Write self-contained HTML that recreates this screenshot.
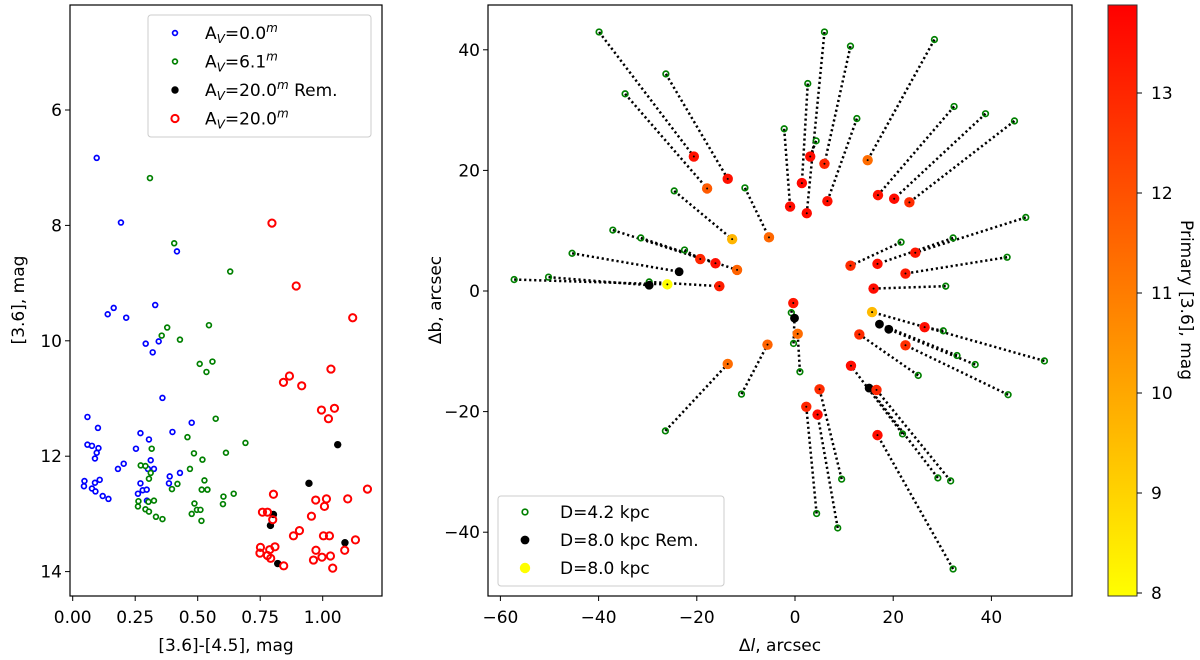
<!DOCTYPE html>
<html><head><meta charset="utf-8"><style>
html,body{margin:0;padding:0;background:#fff;}
svg{display:block;font-family:"DejaVu Sans","Liberation Sans",sans-serif;}
</style></head><body>
<svg id="fig" width="1200" height="660" viewBox="0 0 1200 660">
<defs>
<linearGradient id="cmap" x1="0" y1="1" x2="0" y2="0">
<stop offset="0" stop-color="#ffff00"/><stop offset="1" stop-color="#ff0000"/>
</linearGradient>
</defs>
<g id="left"></g>
<g id="right"></g>
<g id="cbar"></g>
</svg>
<script>
// ---------- Left panel data ----------
const blueX=[0.096,0.193,0.417,0.14,0.164,0.214,0.33,0.292,0.344,0.32,0.359,0.059,0.101,0.476,0.271,0.399,0.305,0.059,0.077,0.103,0.096,0.089,0.253,0.312,0.204,0.181,0.301,0.325,0.429,0.388,0.047,0.108,0.089,0.045,0.271,0.385,0.077,0.091,0.28,0.296,0.261,0.12,0.143,0.297];
const blueY=[6.83,7.95,8.45,9.54,9.43,9.60,9.38,10.05,10.01,10.20,10.99,11.32,11.51,11.42,11.60,11.58,11.71,11.80,11.82,11.86,11.94,12.04,11.87,12.07,12.13,12.22,12.22,12.22,12.29,12.35,12.43,12.41,12.46,12.52,12.47,12.47,12.56,12.61,12.59,12.58,12.65,12.69,12.74,12.77];
const greenX=[0.309,0.406,0.63,0.378,0.545,0.356,0.429,0.508,0.559,0.535,0.572,0.459,0.691,0.316,0.485,0.519,0.613,0.272,0.291,0.312,0.469,0.305,0.527,0.419,0.397,0.516,0.539,0.644,0.603,0.263,0.303,0.325,0.487,0.601,0.261,0.291,0.305,0.497,0.511,0.476,0.333,0.359,0.515];
const greenY=[7.18,8.31,8.80,9.77,9.73,9.91,9.98,10.40,10.36,10.54,11.35,11.67,11.77,11.87,11.95,12.06,11.94,12.16,12.17,12.29,12.22,12.39,12.42,12.48,12.57,12.58,12.58,12.65,12.70,12.78,12.79,12.77,12.82,12.83,12.87,12.92,12.96,12.93,12.93,13.00,13.05,13.09,13.12];
const remX=[1.06,0.945,0.803,0.791,1.089,0.82];
const remY=[11.80,12.47,13.01,13.20,13.50,13.86];
const redX=[0.797,0.894,1.12,1.033,0.867,0.843,0.916,0.995,1.047,1.023,1.179,0.803,0.972,1.015,1.1,1.007,0.759,0.779,0.8,0.955,0.907,0.883,1.003,1.027,1.131,0.751,0.749,0.809,0.788,0.779,0.792,0.973,0.963,0.997,1.031,1.088,1.04,0.844];
const redY=[7.96,9.05,9.60,10.49,10.61,10.72,10.78,11.20,11.17,11.35,12.57,12.66,12.76,12.74,12.74,12.87,12.97,12.97,13.10,13.04,13.29,13.38,13.38,13.38,13.45,13.58,13.68,13.57,13.62,13.72,13.77,13.63,13.80,13.75,13.73,13.63,13.94,13.90];
const leftXTicks=[0,0.25,0.5,0.75,1.0];
const leftXTickLabels=["0.00","0.25","0.50","0.75","1.00"];
const leftYTicks=[6,8,10,12,14];

// ---------- Right panel data ----------
const greenL=[-39.9,-26.3,-34.6,-10.2,-24.6,-2.2,-37.1,-31.4,-22.5,-45.4,-57.2,-50.2,-29.7,6.0,11.3,2.6,4.3,12.6,28.4,32.4,38.8,44.7,47.0,21.6,32.2,43.2,30.7,-0.75,50.8,-0.3,1.0,30.2,33.0,36.7,25.1,43.4,21.9,29.1,31.7,32.2,9.5,4.4,8.7,-10.9,-26.4];
const greenB=[42.95,36.0,32.7,17.1,16.6,26.9,10.1,8.8,6.8,6.25,1.9,2.3,1.5,42.95,40.6,34.4,24.9,28.6,41.7,30.6,29.4,28.2,12.2,8.1,8.8,5.6,0.8,-3.6,-11.6,-8.7,-13.4,-6.6,-10.7,-12.2,-14.0,-17.2,-23.7,-31.0,-31.5,-46.1,-31.2,-36.9,-39.3,-17.1,-23.2];
const farL=[-20.6,-13.7,-17.9,-5.3,-12.8,-1.0,-16.2,-11.8,-19.3,-23.6,-26.0,-29.7,-15.4,2.4,6.0,1.4,3.1,6.6,14.8,16.9,20.2,23.3,24.5,11.3,16.8,22.5,16.0,-0.35,15.7,-0.1,0.55,26.4,17.2,19.1,13.1,22.5,11.4,15.1,16.6,16.8,5.0,2.3,4.6,-5.6,-13.7];
const farB=[22.3,18.6,17.0,8.9,8.6,14.0,4.6,3.5,5.3,3.2,1.1,0.95,0.8,12.9,21.1,17.9,22.3,14.9,21.7,15.9,15.3,14.7,6.35,4.2,4.5,2.9,0.4,-2.0,-3.5,-4.5,-7.1,-6.0,-5.5,-6.35,-7.2,-9.0,-12.4,-16.1,-16.4,-23.9,-16.3,-19.2,-20.5,-8.9,-12.1];
// primary [3.6] magnitude; null = remnant (black)
const farMag=[13.5,13.5,11.8,11.5,9.7,13.6,13.6,11.6,13.0,null,8.0,null,13.2,13.6,13.0,13.7,13.6,13.5,11.4,13.5,13.6,12.9,13.4,12.9,13.5,13.3,13.6,13.4,9.6,null,11.4,13.6,null,null,12.9,12.8,13.6,null,13.0,13.6,12.9,13.0,13.6,11.6,11.4];
const rightXTicks=[-60,-40,-20,0,20,40];
const rightYTicks=[-40,-20,0,20,40];
const cbarTicks=[8,9,10,11,12,13];

const NS="http://www.w3.org/2000/svg";
function mk(parent,tag,attrs,text){const e=document.createElementNS(NS,tag);for(const k in attrs)e.setAttribute(k,attrs[k]);if(text!==undefined)e.textContent=text;parent.appendChild(e);return e;}
const FS=17;

// ---------- Left axes ----------
const L=document.getElementById('left');
const lx=v=>72.7+v*250, ly=v=>110+(v-6)*57.7;
const LB={x0:70,x1:382,y0:5,y1:596};
let fr=mk(L,'rect',{x:LB.x0,y:LB.y0,width:LB.x1-LB.x0,height:LB.y1-LB.y0,fill:'none',stroke:'#000','stroke-width':1.2});

leftXTicks.forEach((t,i)=>{
  mk(L,'line',{x1:lx(t),x2:lx(t),y1:LB.y1,y2:LB.y1+5,stroke:'#000','stroke-width':1});
  const tx=mk(L,'text',{x:lx(t),y:623,'font-size':FS,'text-anchor':'middle'},leftXTickLabels[i]);
  
});
leftYTicks.forEach(t=>{
  mk(L,'line',{x1:LB.x0-5,x2:LB.x0,y1:ly(t),y2:ly(t),stroke:'#000','stroke-width':1});
  const tx=mk(L,'text',{x:LB.x0-8,y:ly(t)+6,'font-size':FS,'text-anchor':'end'},String(t));
  
});
let xl=mk(L,'text',{x:226,y:651,'font-size':FS,'text-anchor':'middle'},'[3.6]-[4.5], mag');

let yl=mk(L,'text',{x:0,y:0,'font-size':FS,'text-anchor':'middle',transform:'translate(24,300) rotate(-90)'},'[3.6], mag');

blueX.forEach((v,i)=>{const c=mk(L,'circle',{cx:lx(v),cy:ly(blueY[i]),r:2.4,fill:'#fff',stroke:'#0000ff','stroke-width':1.7});
});
greenX.forEach((v,i)=>{const c=mk(L,'circle',{cx:lx(v),cy:ly(greenY[i]),r:2.4,fill:'#fff',stroke:'#008000','stroke-width':1.7});
});
remX.forEach((v,i)=>{const c=mk(L,'circle',{cx:lx(v),cy:ly(remY[i]),r:3.7,fill:'#000'});
});
redX.forEach((v,i)=>{const c=mk(L,'circle',{cx:lx(v),cy:ly(redY[i]),r:3.6,fill:'none',stroke:'#ff0000','stroke-width':2});
});
// legend
const lg=mk(L,'g',{});
mk(lg,'rect',{x:148,y:15,width:223,height:122,fill:'#fff','fill-opacity':0.85,stroke:'#ccc','stroke-width':1,rx:3});
const legItems=[['b','0.0',''],['g','6.1',''],['k','20.0',' Rem.'],['r','20.0','']];
legItems.forEach((it,i)=>{
  const y=33+i*28.5;
  if(it[0]==='b')mk(lg,'circle',{cx:175,cy:y,r:2.4,fill:'#fff',stroke:'#0000ff','stroke-width':1.7});
  if(it[0]==='g')mk(lg,'circle',{cx:175,cy:y,r:2.4,fill:'#fff',stroke:'#008000','stroke-width':1.7});
  if(it[0]==='k')mk(lg,'circle',{cx:175,cy:y,r:3.7,fill:'#000'});
  if(it[0]==='r')mk(lg,'circle',{cx:175,cy:y,r:3.6,fill:'none',stroke:'#ff0000','stroke-width':2});
  const t=mk(lg,'text',{x:205,y:y+6,'font-size':FS});
  
  mk(t,'tspan',{},'A');mk(t,'tspan',{'font-size':12,dy:4,'font-style':'italic'},'V');mk(t,'tspan',{dy:-4},'='+it[1]);
  mk(t,'tspan',{'font-size':12,dy:-7,'font-style':'italic'},'m');mk(t,'tspan',{dy:7},it[2]);
});

// ---------- Right axes ----------
const R=document.getElementById('right');
const rx=v=>795+v*4.91, ry=v=>291-v*6.03;
const RB={x0:488,x1:1072,y0:5,y1:596};
fr=mk(R,'rect',{x:RB.x0,y:RB.y0,width:RB.x1-RB.x0,height:RB.y1-RB.y0,fill:'none',stroke:'#000','stroke-width':1.2});

rightXTicks.forEach(t=>{
  mk(R,'line',{x1:rx(t),x2:rx(t),y1:RB.y1,y2:RB.y1+5,stroke:'#000','stroke-width':1});
  const tx=mk(R,'text',{x:rx(t),y:623,'font-size':FS,'text-anchor':'middle'},t<0?'\u2212'+(-t):String(t));
  
});
rightYTicks.forEach(t=>{
  mk(R,'line',{x1:RB.x0-5,x2:RB.x0,y1:ry(t),y2:ry(t),stroke:'#000','stroke-width':1});
  const tx=mk(R,'text',{x:RB.x0-8,y:ry(t)+6,'font-size':FS,'text-anchor':'end'},t<0?'\u2212'+(-t):String(t));
  
});
xl=mk(R,'text',{x:780,y:651,'font-size':FS,'text-anchor':'middle'});

mk(xl,'tspan',{},'\u0394');mk(xl,'tspan',{'font-style':'italic'},'l');mk(xl,'tspan',{},', arcsec');
yl=mk(R,'text',{x:0,y:0,'font-size':FS,'text-anchor':'middle',transform:'translate(441,300) rotate(-90)'},'\u0394b, arcsec');

const magCol=m=>{const t=Math.max(0,Math.min(1,(m-8)/(13.88-8)));return 'rgb(255,'+Math.round(255*(1-t))+',0)';};
greenL.forEach((v,i)=>{const ln=mk(R,'line',{x1:rx(v),y1:ry(greenB[i]),x2:rx(farL[i]),y2:ry(farB[i]),stroke:'#000','stroke-width':2.5,'stroke-dasharray':'2.2 2.8'});
});
greenL.forEach((v,i)=>{const c=mk(R,'circle',{cx:rx(v),cy:ry(greenB[i]),r:2.8,fill:'none',stroke:'#008000','stroke-width':1.7});
});
farL.forEach((v,i)=>{const m=farMag[i];const c=mk(R,'circle',{cx:rx(v),cy:ry(farB[i]),r:m===null?4.4:5.2,fill:m===null?'#000':magCol(m)});

if(m!==null){mk(R,'circle',{cx:rx(v),cy:ry(farB[i]),r:1,fill:'#000'});}});
// legend
const rg=mk(R,'g',{});
mk(rg,'rect',{x:498,y:496,width:226,height:90,fill:'#fff','fill-opacity':0.85,stroke:'#ccc','stroke-width':1,rx:3});
[['g','D=4.2 kpc'],['k','D=8.0 kpc Rem.'],['y','D=8.0 kpc']].forEach((it,i)=>{
  const y=512+i*28;
  if(it[0]==='g')mk(rg,'circle',{cx:525,cy:y,r:2.8,fill:'none',stroke:'#008000','stroke-width':1.7});
  if(it[0]==='k')mk(rg,'circle',{cx:525,cy:y,r:4.4,fill:'#000'});
  if(it[0]==='y')mk(rg,'circle',{cx:525,cy:y,r:5.2,fill:'#ffff00'});
  const t=mk(rg,'text',{x:560,y:y+6,'font-size':FS},it[1]);
  
});

// ---------- Colorbar ----------
const C=document.getElementById('cbar');
const cy=v=>593-(v-8)*100;
mk(C,'rect',{x:1108,y:5,width:29,height:591,fill:'url(#cmap)',stroke:'#333','stroke-width':1});
cbarTicks.forEach(t=>{
  mk(C,'line',{x1:1137,x2:1142,y1:cy(t),y2:cy(t),stroke:'#000','stroke-width':1});
  const tx=mk(C,'text',{x:1151,y:cy(t)+6,'font-size':FS},String(t));
  
});
const ct=mk(C,'text',{x:0,y:0,'font-size':FS,'text-anchor':'middle',transform:'translate(1181,300) rotate(90)'},'Primary [3.6], mag');

</script>
</body></html>
